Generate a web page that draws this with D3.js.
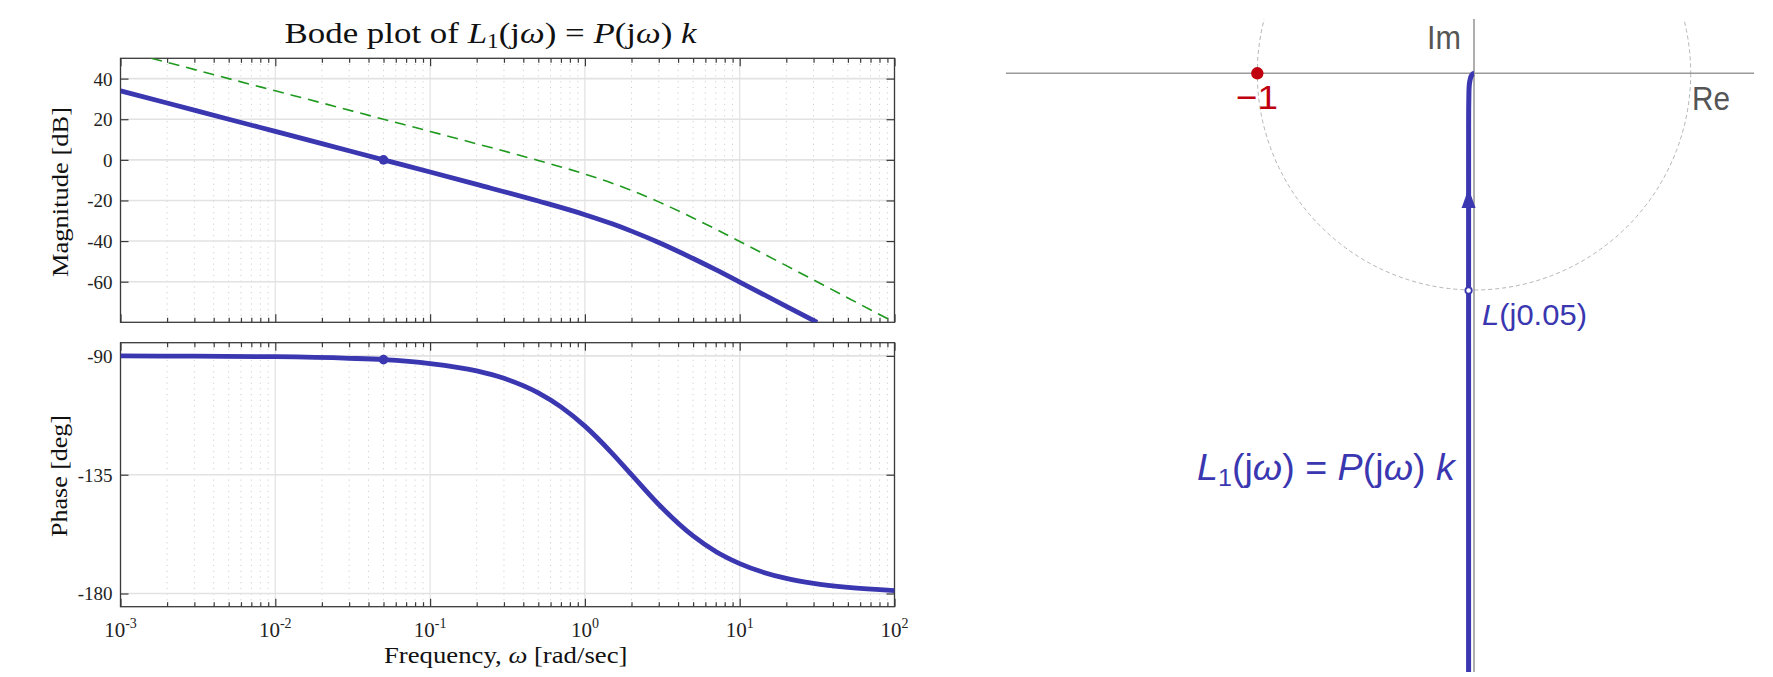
<!DOCTYPE html>
<html><head><meta charset="utf-8">
<script src="https://cdn.jsdelivr.net/npm/d3@7"></script>
<style>body{margin:0;background:#fff}svg{display:block}</style>
</head><body>
<svg id="c" width="1773" height="677"></svg>
<script>
// ---------- data ----------
const freqMag = [0.001,0.002,0.005,0.01,0.02,0.05,0.1,0.2,0.5,1,1.5,2,3,5,7,10,20,31.6];
const magL1   = [34.0,28.0,20.0,14.0,8.0,0.0,-6.0,-12.1,-20.3,-27.0,-31.5,-35.1,-40.7,-48.6,-54.1,-60.2,-72.1,-80.0];
const freqRef = [0.00158,0.002,0.005,0.01,0.02,0.05,0.1,0.2,0.5,1,1.5,2,3,5,7,10,20,50,100];
const magRef  = [50.0,48.0,40.0,34.0,28.0,20.0,14.0,7.9,-0.3,-7.0,-11.5,-15.1,-20.7,-28.6,-34.1,-40.2,-52.1,-68.0,-80.0];
const freqPhase = [0.001,0.003,0.01,0.03,0.05,0.1,0.2,0.3,0.5,0.7,1,1.5,2,3,5,7,10,20,30,50,100];
const phaseL1   = [-90.0,-90.1,-90.3,-90.9,-91.4,-92.9,-95.7,-98.5,-104.0,-109.3,-116.6,-126.9,-135.0,-146.3,-158.2,-164.1,-168.7,-174.3,-176.2,-177.7,-178.9];
const markerFreq = 0.05, markerMag = 0.0, markerPhase = -91.4;
const magTicks = [-60,-40,-20,0,20,40];
const phaseTicks = [-180,-135,-90];
const decadeTicks = [1e-3,1e-2,1e-1,1e0,1e1,1e2];
const decadeExp = ["-3","-2","-1","0","1","2"];
// Nyquist curve of L1(jw) (real, imaginary parts)
const nyqRe = [-0.0250,-0.0250,-0.0250,-0.0250,-0.0249,-0.0248,-0.0245,-0.0235,-0.0225,-0.0200,-0.0160,-0.0125,-0.0077,-0.0035,-0.0010,0.0];
const nyqIm = [-2.80,-2.00,-1.50,-1.00,-0.50,-0.25,-0.163,-0.094,-0.064,-0.040,-0.0213,-0.0125,-0.0051,-0.0014,-0.0002,0.0];
const pointMinusOne = {re:-1, im:0};
const pointL005 = {re:-0.025, im:-1.0};
const arrowIm = [-0.53,-0.62];

const BLUE = "#3a37b1", GREEN = "#1f9a1f", RED = "#c0000f";
const svg = d3.select("#c");
svg.append("rect").attr("width",1773).attr("height",677).attr("fill","#fff");

function fit(t, left, baseline, width){
  const b = t.node().getBBox();
  const sx = width / b.width;
  t.attr("transform", `translate(${left - b.x*sx},${baseline}) scale(${sx},1)`);
}
function fitV(t, cx, cy, len){
  const b = t.node().getBBox();
  const sx = len / b.width;
  t.attr("transform", `translate(${cx},${cy}) rotate(-90) scale(${sx},1)`);
}

// ---------- Bode ----------
const X0 = 120.5, X1 = 894.5;
const x = d3.scaleLog().domain([1e-3,1e2]).range([X0,X1]);
const yMag = d3.scaleLinear().domain([-80,50]).range([322.3,58.3]);
const yPh = d3.scaleLinear().domain([-185,-85]).range([606.7,342.7]);
const minors = [];
for (let e=-3;e<2;e++) for (let m=2;m<=9;m++) minors.push(m*Math.pow(10,e));

function panel(y, ticks, id){
  const g = svg.append("g");
  const [ya, yb] = y.range();
  g.append("clipPath").attr("id",id).append("rect").attr("x",X0).attr("y",yb).attr("width",X1-X0).attr("height",ya-yb);
  g.selectAll(".mg").data(minors).join("line")
    .attr("x1",d=>x(d)).attr("x2",d=>x(d)).attr("y1",yb).attr("y2",ya)
    .attr("stroke","#cfcfcf").attr("stroke-width",1).attr("stroke-dasharray","1.2,4.5");
  g.selectAll(".vg").data(decadeTicks).join("line")
    .attr("x1",d=>x(d)).attr("x2",d=>x(d)).attr("y1",yb).attr("y2",ya)
    .attr("stroke","#e2e2e2").attr("stroke-width",1.2);
  g.selectAll(".hg").data(ticks).join("line")
    .attr("x1",X0).attr("x2",X1).attr("y1",d=>y(d)).attr("y2",d=>y(d))
    .attr("stroke","#e2e2e2").attr("stroke-width",1.6);
  const axL = g.append("g").attr("transform",`translate(${X0},0)`)
    .call(d3.axisLeft(y).tickValues(ticks).tickSize(-8).tickSizeOuter(0).tickPadding(8).tickFormat(d=>String(d)));
  const axR = g.append("g").attr("transform",`translate(${X1},0)`)
    .call(d3.axisRight(y).tickValues(ticks).tickSize(-8).tickSizeOuter(0).tickFormat(""));
  const axB = g.append("g").attr("transform",`translate(0,${ya})`)
    .call(d3.axisBottom(x).tickValues(decadeTicks).tickSize(-8).tickSizeOuter(0).tickFormat(""));
  const axBm = g.append("g").attr("transform",`translate(0,${ya})`)
    .call(d3.axisBottom(x).tickValues(minors).tickSize(-4.5).tickSizeOuter(0).tickFormat(""));
  const axT = g.append("g").attr("transform",`translate(0,${yb})`)
    .call(d3.axisTop(x).tickValues(decadeTicks).tickSize(-8).tickSizeOuter(0).tickFormat(""));
  const axTm = g.append("g").attr("transform",`translate(0,${yb})`)
    .call(d3.axisTop(x).tickValues(minors).tickSize(-4.5).tickSizeOuter(0).tickFormat(""));
  [axL,axR,axB,axBm,axT,axTm].forEach(a=>{
    a.select(".domain").remove();
    a.selectAll(".tick line").attr("stroke","#3a3a3a").attr("stroke-width",1.2);
    a.selectAll("text").attr("font-family","'Liberation Serif',serif").attr("font-size",19).attr("fill","#222");
  });
  axL.selectAll(".tick text").attr("dy","0.34em");
  g.append("rect").attr("x",X0).attr("y",yb).attr("width",X1-X0).attr("height",ya-yb)
    .attr("fill","none").attr("stroke","#3a3a3a").attr("stroke-width",1.3);
  return g;
}
const gM = panel(yMag, magTicks, "clipM");
const gP = panel(yPh, phaseTicks, "clipP");

const lineMag = d3.line().x(d=>x(d[0])).y(d=>yMag(d[1])).curve(d3.curveMonotoneX);
const linePh = d3.line().x(d=>x(d[0])).y(d=>yPh(d[1])).curve(d3.curveMonotoneX);
gM.append("path").attr("clip-path","url(#clipM)")
  .attr("d", lineMag(freqRef.map((f,i)=>[f,magRef[i]])))
  .attr("fill","none").attr("stroke",GREEN).attr("stroke-width",1.6).attr("stroke-dasharray","11,7");
gM.append("path").attr("clip-path","url(#clipM)")
  .attr("d", lineMag(freqMag.map((f,i)=>[f,magL1[i]])))
  .attr("fill","none").attr("stroke",BLUE).attr("stroke-width",4.8);
gM.append("circle").attr("cx",x(markerFreq)).attr("cy",yMag(markerMag)).attr("r",4.8).attr("fill",BLUE);
gP.append("path").attr("clip-path","url(#clipP)")
  .attr("d", linePh(freqPhase.map((f,i)=>[f,phaseL1[i]])))
  .attr("fill","none").attr("stroke",BLUE).attr("stroke-width",4.8);
gP.append("circle").attr("cx",x(markerFreq)).attr("cy",yPh(markerPhase)).attr("r",4.8).attr("fill",BLUE);

decadeTicks.forEach((d,i)=>{
  const t = svg.append("text").attr("x",x(d)).attr("y",637).attr("text-anchor","middle")
    .attr("font-family","'Liberation Serif',serif").attr("font-size",21).attr("fill","#222");
  t.append("tspan").text("10");
  t.append("tspan").attr("dy",-9).attr("font-size",14).text(decadeExp[i]);
});

const SERIF = "'Liberation Serif','Times New Roman',serif";
const title = svg.append("text").attr("font-family",SERIF).attr("font-size",30).attr("fill","#111");
title.append("tspan").text("Bode plot of ");
title.append("tspan").attr("font-style","italic").text("L");
title.append("tspan").attr("font-size",20).attr("dy",5).text("1");
title.append("tspan").attr("dy",-5).text("(j");
title.append("tspan").attr("font-style","italic").text("ω");
title.append("tspan").text(") = ");
title.append("tspan").attr("font-style","italic").text("P");
title.append("tspan").text("(j");
title.append("tspan").attr("font-style","italic").text("ω");
title.append("tspan").text(") ");
title.append("tspan").attr("font-style","italic").text("k");
fit(title, 284.5, 43.3, 413);

const xl = svg.append("text").attr("font-family",SERIF).attr("font-size",23).attr("fill","#111");
xl.append("tspan").text("Frequency, ");
xl.append("tspan").attr("font-style","italic").text("ω");
xl.append("tspan").text(" [rad/sec]");
fit(xl, 384, 663, 243.6);

const yl1 = svg.append("text").attr("font-family",SERIF).attr("font-size",24).attr("fill","#111")
  .attr("text-anchor","middle").text("Magnitude [dB]");
fitV(yl1, 68, 192, 170);
const yl2 = svg.append("text").attr("font-family",SERIF).attr("font-size",24).attr("fill","#111")
  .attr("text-anchor","middle").text("Phase [deg]");
fitV(yl2, 67, 476, 122);

// ---------- Nyquist ----------
const nx = d3.scaleLinear().domain([-1,0]).range([1257.3,1474]);
const ny = d3.scaleLinear().domain([0,-1]).range([73.3,290.5]);
const gN = svg.append("g");
gN.append("clipPath").attr("id","clipN").append("rect").attr("x",1006).attr("y",19).attr("width",748).attr("height",653);
const gc = gN.append("g").attr("clip-path","url(#clipN)");
gc.append("circle").attr("cx",nx(0)).attr("cy",ny(0)).attr("r",nx(1)-nx(0))
  .attr("fill","none").attr("stroke","#b5b5b5").attr("stroke-width",1).attr("stroke-dasharray","4,3");
gc.append("line").attr("x1",nx(-3)).attr("x2",nx(2)).attr("y1",ny(0)).attr("y2",ny(0))
  .attr("stroke","#9a9a9a").attr("stroke-width",1.6);
gc.append("line").attr("x1",nx(0)).attr("x2",nx(0)).attr("y1",ny(1)).attr("y2",ny(-3))
  .attr("stroke","#9a9a9a").attr("stroke-width",1.6);
const nyLine = d3.line().x(d=>nx(d[0])).y(d=>ny(d[1])).curve(d3.curveCatmullRom);
gc.append("path").attr("d", nyLine(nyqRe.map((r,i)=>[r,nyqIm[i]])))
  .attr("fill","none").attr("stroke",BLUE).attr("stroke-width",5);
const ax = nx(-0.025), ayTip = ny(arrowIm[0]), ayBase = ny(arrowIm[1]);
gc.append("path").attr("d",`M${ax},${ayTip}L${ax+7},${ayBase}L${ax-7},${ayBase}Z`).attr("fill",BLUE);
gc.append("circle").attr("cx",nx(pointMinusOne.re)).attr("cy",ny(pointMinusOne.im)).attr("r",6.2).attr("fill",RED);
gc.append("circle").attr("cx",nx(pointL005.re)).attr("cy",ny(pointL005.im)).attr("r",3.2)
  .attr("fill","#fff").attr("stroke",BLUE).attr("stroke-width",1.8);

const SANS = "'Liberation Sans','DejaVu Sans',sans-serif";
const tIm = svg.append("text").attr("font-family",SANS).attr("font-size",34).attr("fill","#555").text("Im");
fit(tIm, 1427, 49.3, 34);
const tRe = svg.append("text").attr("font-family",SANS).attr("font-size",34).attr("fill","#555").text("Re");
fit(tRe, 1692, 110, 38);
const tM1 = svg.append("text").attr("font-family",SANS).attr("font-size",34).attr("fill",RED).text("−1");
fit(tM1, 1236, 109.3, 42);
const tL = svg.append("text").attr("font-family",SANS).attr("font-size",30).attr("fill",BLUE);
tL.append("tspan").attr("font-style","italic").text("L");
tL.append("tspan").text("(j0.05)");
fit(tL, 1482, 325, 105);
const tL1 = svg.append("text").attr("font-family",SANS).attr("font-size",36).attr("fill",BLUE);
tL1.append("tspan").attr("font-style","italic").text("L");
tL1.append("tspan").attr("font-size",24).attr("dy",6).text("1");
tL1.append("tspan").attr("dy",-6).text("(j");
tL1.append("tspan").attr("font-style","italic").text("ω");
tL1.append("tspan").text(") = ");
tL1.append("tspan").attr("font-style","italic").text("P");
tL1.append("tspan").text("(j");
tL1.append("tspan").attr("font-style","italic").text("ω");
tL1.append("tspan").text(") ");
tL1.append("tspan").attr("font-style","italic").text("k");
fit(tL1, 1197, 480, 260);
</script>
</body></html>
